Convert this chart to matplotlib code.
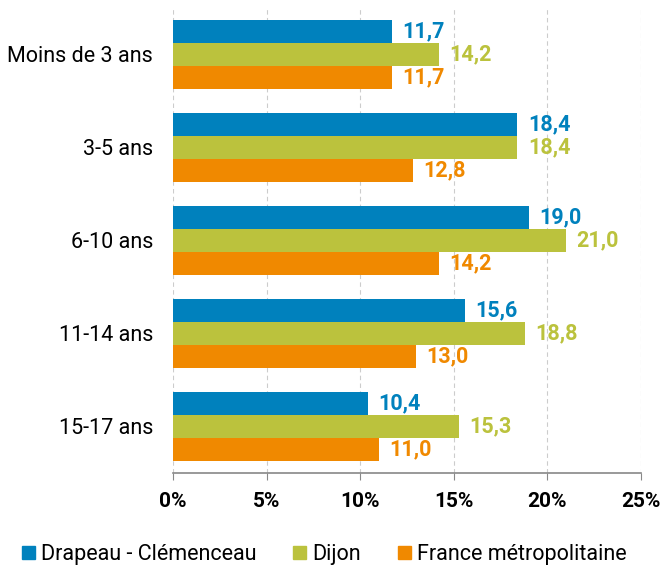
import matplotlib.pyplot as plt
import numpy as np
from matplotlib.patches import Patch

plt.rcParams['font.family'] = ['Roboto', 'DejaVu Sans']

categories = ['Moins de 3 ans', '3-5 ans', '6-10 ans', '11-14 ans', '15-17 ans']
drapeau = [11.7, 18.4, 19.0, 15.6, 10.4]
dijon = [14.2, 18.4, 21.0, 18.8, 15.3]
france = [11.7, 12.8, 14.2, 13.0, 11.0]
series_names = ['Drapeau - Clémenceau', 'Dijon', 'France métropolitaine']
colors = ['#0081BD', '#BBC23D', '#F08900']

y = np.arange(len(categories))
h = 0.25

fig = plt.figure(figsize=(6.62, 5.67), dpi=100)
ax = fig.add_axes([0.2613, 0.1658, 0.7070, 0.8201])

for i, (vals, col) in enumerate(zip([drapeau, dijon, france], colors)):
    pos = y + (i - 1) * h
    ax.barh(pos, vals, height=h * 0.97, color=col, zorder=3)
    for p, v in zip(pos, vals):
        ax.text(v + 0.55, p, f'{v:.1f}'.replace('.', ','), color=col,
                fontsize=15.5, fontweight='bold', va='center', ha='left')

ax.set_xlim(0, 25)
ax.set_ylim(4.5, -0.5)
ax.set_xticks(np.arange(0, 26, 5))
ax.set_xticklabels([f'{t}%' for t in range(0, 26, 5)], fontsize=15, fontweight='bold')
ax.set_yticks(y)
ax.set_yticklabels(categories, fontsize=15.5)
ax.tick_params(axis='y', length=0, pad=14.4)
ax.tick_params(axis='x', length=5, color='#888888', pad=9)
ax.grid(axis='x', color='#cccccc', linestyle=(0, (4, 3)), linewidth=0.8, zorder=0)
for s in ['top', 'right', 'left']:
    ax.spines[s].set_visible(False)
ax.spines['bottom'].set_color('#888888')
ax.spines['bottom'].set_linewidth(1.2)

handles = [Patch(color=c) for c in colors]
fig.legend(handles, series_names, loc='lower center', ncol=3, frameon=False,
           fontsize=15.5, bbox_to_anchor=(0.49, -0.031), handlelength=0.6, handleheight=0.6,
           handletextpad=0.3, columnspacing=1.7)

fig.savefig('out.png', dpi=100)
